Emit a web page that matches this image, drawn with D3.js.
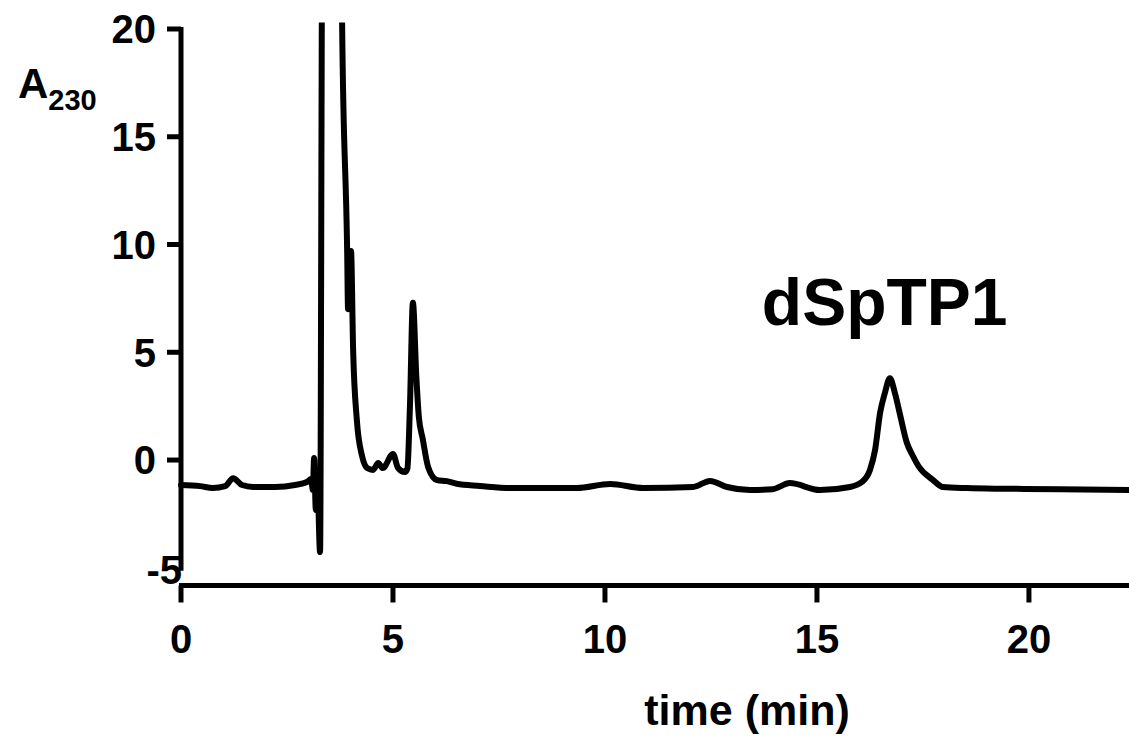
<!DOCTYPE html>
<html>
<head>
<meta charset="utf-8">
<script src="https://cdn.jsdelivr.net/npm/d3@7"></script>
<style>
  html, body { margin: 0; padding: 0; background: #fff; }
  svg { display: block; }
  text { font-family: "Liberation Sans", Arial, Helvetica, sans-serif; font-weight: bold; fill: #000; }
</style>
</head>
<body>
<svg id="chart" width="1129" height="741"></svg>
<script>
// ---- data ----
const time = [
  0, 0.45, 0.75, 1.04, 1.23, 1.44, 1.70, 2.22, 2.69, 2.97, 3.07,
  3.11, 3.14, 3.18, 3.21, 3.28, 3.335, 3.79, 3.80,
  3.92, 3.94, 4.01, 4.06, 4.15, 4.27, 4.39, 4.53, 4.65, 4.76, 5.00, 5.12, 5.28,
  5.34, 5.40, 5.47, 5.55, 5.61, 5.70, 5.83, 6.04, 6.27, 6.50, 7.05,
  7.76, 9.34, 10.12, 10.90, 12.08, 12.48, 12.88, 13.42, 13.96, 14.36, 15.07,
  15.78, 16.06, 16.25, 16.37, 16.49, 16.60, 16.72, 16.84, 16.96, 17.12, 17.26,
  17.40, 17.74, 17.97, 18.54, 19.32, 20.73, 22.36
];
const absorbance = [
  -1.16, -1.21, -1.30, -1.21, -0.84, -1.16, -1.25, -1.25, -1.16, -1.02, -0.88,
  -1.39, 0.09, -2.32, -0.46, -4.27, 25, 25, 20.3,
  9.6, 7.0, 9.7, 5.1, 1.8, 0.19, -0.37, -0.46, -0.14, -0.37, 0.28, -0.37, -0.56,
  -0.40, 2.5, 7.3, 3.9, 2.0, 1.0, -0.33, -0.93, -0.98, -1.10, -1.20,
  -1.30, -1.30, -1.11, -1.30, -1.25, -0.97, -1.25, -1.39, -1.35, -1.07, -1.39,
  -1.25, -1.02, -0.46, 0.46, 2.2, 3.1, 3.8, 3.1, 2.1, 0.8, 0.2,
  -0.3, -0.93, -1.25, -1.30, -1.33, -1.35, -1.39
];
const xTicks = [0, 5, 10, 15, 20];
const yTicks = [-5, 0, 5, 10, 15, 20];
const yLabel = "A";
const yLabelSub = "230";
const xLabel = "time (min)";
const peakLabel = "dSpTP1";

// ---- scales ----
const x = d3.scaleLinear().domain([0, 22.36]).range([181, 1129]);
const y = d3.scaleLinear().domain([-5, 20]).range([567.8, 29]);

const svg = d3.select("#chart");

// clip for the trace (main peak goes off-scale)
svg.append("defs").append("clipPath").attr("id", "plotclip")
  .append("rect").attr("x", 0).attr("width", 1129)
  .attr("y", y(20.3)).attr("height", 741 - y(20.3));

const pts = time.map((t, i) => [t, absorbance[i]]);
const line = d3.line().x(d => x(d[0])).y(d => y(d[1])).curve(d3.curveMonotoneX);

svg.append("path")
  .datum(pts)
  .attr("d", line)
  .attr("clip-path", "url(#plotclip)")
  .attr("fill", "none")
  .attr("stroke", "#000")
  .attr("stroke-width", 6)
  .attr("stroke-linejoin", "round")
  .attr("stroke-linecap", "round");

// ---- y axis ----
const yAxisG = svg.append("g").attr("transform", `translate(${x(0)},0)`);
yAxisG.append("line")
  .attr("x1", 0).attr("x2", 0)
  .attr("y1", y(20) - 2).attr("y2", y(-5) + 3)
  .attr("stroke", "#000").attr("stroke-width", 5);
yTicks.filter(v => v !== -5).forEach(v => {
  yAxisG.append("line")
    .attr("x1", -14).attr("x2", 0)
    .attr("y1", y(v)).attr("y2", y(v))
    .attr("stroke", "#000").attr("stroke-width", 5);
  yAxisG.append("text")
    .attr("x", -25).attr("y", y(v))
    .attr("dy", "0.36em")
    .attr("text-anchor", "end")
    .attr("font-size", 40)
    .text(v);
});
// the -5 label sits on the axis corner
yAxisG.append("text")
  .attr("x", 1).attr("y", y(-5) + 2)
  .attr("dy", "0.36em")
  .attr("text-anchor", "end")
  .attr("font-size", 40)
  .text(yTicks[0]);

// ---- x axis ----
const xAxisY = 585.5;
const xAxisG = svg.append("g").attr("transform", `translate(0,${xAxisY})`);
xAxisG.append("line")
  .attr("x1", x(0) - 2).attr("x2", 1129)
  .attr("y1", 0).attr("y2", 0)
  .attr("stroke", "#000").attr("stroke-width", 5);
xTicks.forEach(t => {
  xAxisG.append("line")
    .attr("x1", x(t)).attr("x2", x(t))
    .attr("y1", 0).attr("y2", 17)
    .attr("stroke", "#000").attr("stroke-width", 5);
  xAxisG.append("text")
    .attr("x", x(t)).attr("y", 67)
    .attr("text-anchor", "middle")
    .attr("font-size", 40)
    .text(t);
});

// ---- labels ----
const yl = svg.append("text").attr("x", 18).attr("y", 98).attr("font-size", 42);
yl.append("tspan").text(yLabel);
yl.append("tspan").attr("font-size", 29).attr("dy", 12).text(yLabelSub);

svg.append("text")
  .attr("x", 747).attr("y", 725)
  .attr("text-anchor", "middle")
  .attr("font-size", 43)
  .text(xLabel);

svg.append("text")
  .attr("x", x(13.70)).attr("y", y(6.26))
  .attr("font-size", 66)
  .text(peakLabel);
</script>
</body>
</html>
